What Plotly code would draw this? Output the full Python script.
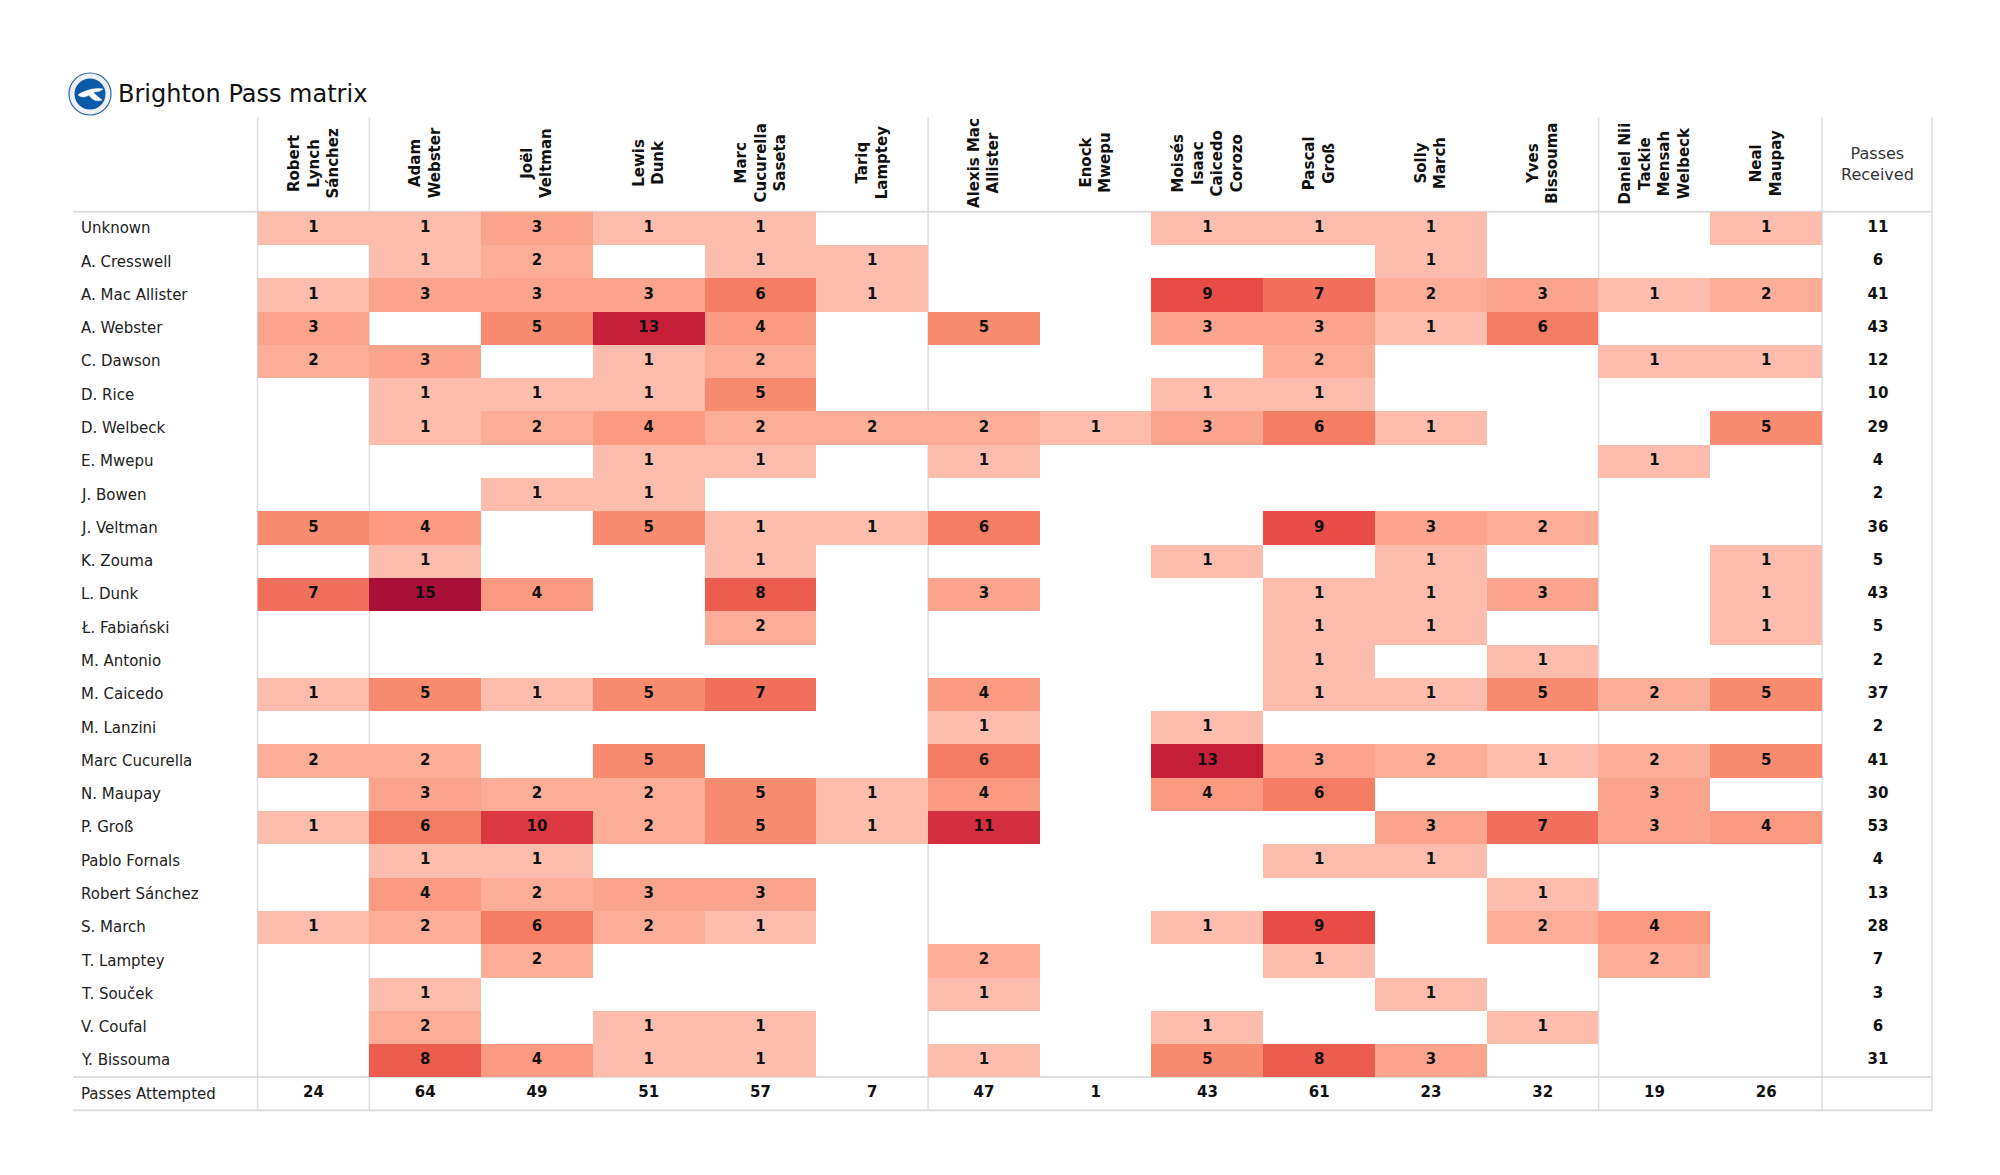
import plotly.graph_objects as go

# ---------------- data ----------------
passers = ["Robert Lynch Sánchez", "Adam Webster", "Joël Veltman", "Lewis Dunk",
           "Marc Cucurella Saseta", "Tariq Lamptey", "Alexis Mac Allister", "Enock Mwepu",
           "Moisés Isaac Caicedo Corozo", "Pascal Groß", "Solly March", "Yves Bissouma",
           "Daniel Nii Tackie Mensah Welbeck", "Neal Maupay"]
header_labels = ["Robert<br>Lynch<br>Sánchez", "Adam<br>Webster", "Joël<br>Veltman", "Lewis<br>Dunk",
                 "Marc<br>Cucurella<br>Saseta", "Tariq<br>Lamptey", "Alexis Mac<br>Allister", "Enock<br>Mwepu",
                 "Moisés<br>Isaac<br>Caicedo<br>Corozo", "Pascal<br>Groß", "Solly<br>March", "Yves<br>Bissouma",
                 "Daniel Nii<br>Tackie<br>Mensah<br>Welbeck", "Neal<br>Maupay"]
receivers = ["Unknown", "A. Cresswell", "A. Mac Allister", "A. Webster", "C. Dawson", "D. Rice",
             "D. Welbeck", "E. Mwepu", "J. Bowen", "J. Veltman", "K. Zouma", "L. Dunk",
             "Ł. Fabiański", "M. Antonio", "M. Caicedo", "M. Lanzini", "Marc Cucurella",
             "N. Maupay", "P. Groß", "Pablo Fornals", "Robert Sánchez", "S. March",
             "T. Lamptey", "T. Souček", "V. Coufal", "Y. Bissouma"]
N = None
passes = [
    [1, 1, 3, 1, 1, N, N, N, 1, 1, 1, N, N, 1],      # Unknown
    [N, 1, 2, N, 1, 1, N, N, N, N, 1, N, N, N],      # A. Cresswell
    [1, 3, 3, 3, 6, 1, N, N, 9, 7, 2, 3, 1, 2],      # A. Mac Allister
    [3, N, 5, 13, 4, N, 5, N, 3, 3, 1, 6, N, N],     # A. Webster
    [2, 3, N, 1, 2, N, N, N, N, 2, N, N, 1, 1],      # C. Dawson
    [N, 1, 1, 1, 5, N, N, N, 1, 1, N, N, N, N],      # D. Rice
    [N, 1, 2, 4, 2, 2, 2, 1, 3, 6, 1, N, N, 5],      # D. Welbeck
    [N, N, N, 1, 1, N, 1, N, N, N, N, N, 1, N],      # E. Mwepu
    [N, N, 1, 1, N, N, N, N, N, N, N, N, N, N],      # J. Bowen
    [5, 4, N, 5, 1, 1, 6, N, N, 9, 3, 2, N, N],      # J. Veltman
    [N, 1, N, N, 1, N, N, N, 1, N, 1, N, N, 1],      # K. Zouma
    [7, 15, 4, N, 8, N, 3, N, N, 1, 1, 3, N, 1],     # L. Dunk
    [N, N, N, N, 2, N, N, N, N, 1, 1, N, N, 1],      # Ł. Fabiański
    [N, N, N, N, N, N, N, N, N, 1, N, 1, N, N],      # M. Antonio
    [1, 5, 1, 5, 7, N, 4, N, N, 1, 1, 5, 2, 5],      # M. Caicedo
    [N, N, N, N, N, N, 1, N, 1, N, N, N, N, N],      # M. Lanzini
    [2, 2, N, 5, N, N, 6, N, 13, 3, 2, 1, 2, 5],     # Marc Cucurella
    [N, 3, 2, 2, 5, 1, 4, N, 4, 6, N, N, 3, N],      # N. Maupay
    [1, 6, 10, 2, 5, 1, 11, N, N, N, 3, 7, 3, 4],    # P. Groß
    [N, 1, 1, N, N, N, N, N, N, 1, 1, N, N, N],      # Pablo Fornals
    [N, 4, 2, 3, 3, N, N, N, N, N, N, 1, N, N],      # Robert Sánchez
    [1, 2, 6, 2, 1, N, N, N, 1, 9, N, 2, 4, N],      # S. March
    [N, N, 2, N, N, N, 2, N, N, 1, N, N, 2, N],      # T. Lamptey
    [N, 1, N, N, N, N, 1, N, N, N, 1, N, N, N],      # T. Souček
    [N, 2, N, 1, 1, N, N, N, 1, N, N, 1, N, N],      # V. Coufal
    [N, 8, 4, 1, 1, N, 1, N, 5, 8, 3, N, N, N],      # Y. Bissouma
]
passes_received = [11, 6, 41, 43, 12, 10, 29, 4, 2, 36, 5, 43, 5, 2, 37, 2, 41, 30, 53, 4, 13, 28, 7, 3, 6, 31]
passes_attempted = [24, 64, 49, 51, 57, 7, 47, 1, 43, 61, 23, 32, 19, 26]
received_label = "Passes Received"
attempted_label = "Passes Attempted"
title_text = "Brighton Pass matrix"

# colour anchors (value -> colour)
color_values = [1, 2, 3, 4, 5, 6, 7, 8, 9, 10, 11, 13, 15]
color_hex = ["#fcbdad", "#fcad98", "#fba48d", "#fb9a80", "#f88b70", "#f57d64", "#f06f5d",
             "#ec5d50", "#e74c47", "#dd3943", "#d52f3f", "#c71f3a", "#a8103a"]

# ---------------- geometry (page pixels; page has an 8px body margin) ----------------
OFF = 8
W, H = 2000 - 2 * OFF, 1175 - 2 * OFF
COLW, X0PX = 111.75, 257.6     # column width, left edge of first passer column (page px)
ROWH, Y0PX = 33.28, 211.7      # row height, top edge of first row (page px)


def xd(px):
    return -0.5 + (px - X0PX) / COLW


def yd(px):
    return -0.5 + (px - Y0PX) / ROWH


def xp(px):
    return (px - OFF) / W


def yp(px):
    return 1 - (px - OFF) / H


vmin, vmax = min(color_values), max(color_values)
colorscale = [[(v - vmin) / (vmax - vmin), c] for v, c in zip(color_values, color_hex)]

xcats = passers + [received_label]
ycats = receivers + [attempted_label]

fig = go.Figure()
fig.add_trace(go.Heatmap(
    z=passes, x=passers, y=receivers, colorscale=colorscale, zmin=vmin, zmax=vmax,
    showscale=False, hoverongaps=False, xgap=0, ygap=0,
))

cell_font = dict(family="DejaVu Sans", size=15, color="#111111", weight="bold")
cx, cy, ct = [], [], []
for i, r in enumerate(receivers):
    for j, p in enumerate(passers):
        v = passes[i][j]
        if v is not None:
            cx.append(p); cy.append(r); ct.append(str(v))
fig.add_trace(go.Scatter(x=cx, y=cy, text=ct, mode="text", textfont=cell_font,
                         hoverinfo="skip", showlegend=False))
fig.add_trace(go.Scatter(x=[received_label] * len(receivers), y=receivers,
                         text=[str(v) for v in passes_received], mode="text",
                         textfont=cell_font, hoverinfo="skip", showlegend=False))
fig.add_trace(go.Scatter(x=passers, y=[attempted_label] * len(passers),
                         text=[str(v) for v in passes_attempted], mode="text",
                         textfont=cell_font, hoverinfo="skip", showlegend=False))

annotations = []
# row labels
label_x = xd(79)
for r in ycats:
    annotations.append(dict(x=label_x, y=r, xref="x", yref="y", text=r, showarrow=False,
                            xanchor="left", yanchor="middle",
                            font=dict(family="DejaVu Sans", size=15, color="#222222")))
# column headers
for j, lab in enumerate(header_labels):
    annotations.append(dict(x=j, y=yd(163), xref="x", yref="y", text=lab, showarrow=False,
                            textangle=-90, xanchor="center", yanchor="middle", align="center",
                            font=dict(family="DejaVu Sans", size=15, color="#111111", weight="bold")))
annotations.append(dict(x=len(passers), y=yd(164), xref="x", yref="y", text="Passes<br>Received",
                        showarrow=False, xanchor="center", yanchor="middle", align="center",
                        font=dict(family="DejaVu Sans", size=16, color="#333333")))
# title
annotations.append(dict(x=xp(116), y=yp(94), xref="paper", yref="paper", text=title_text,
                        showarrow=False, xanchor="left", yanchor="middle",
                        font=dict(family="DejaVu Sans", size=24, color="#111111")))

shapes = []
line_col = "#dedede"
x_left, x_right = xd(73), xd(1932)
y_top_hdr, y_bottom = yd(117), len(ycats) - 0.5
for yy in [-0.5, len(receivers) - 0.5, len(ycats) - 0.5]:
    shapes.append(dict(type="line", xref="x", yref="y", x0=x_left, x1=x_right, y0=yy, y1=yy,
                       line=dict(color=line_col, width=2), layer="below"))
for xx in [-0.5, 0.5, 5.5, 11.5, len(passers) - 0.5, x_right]:
    shapes.append(dict(type="line", xref="x", yref="y", x0=xx, x1=xx, y0=y_top_hdr, y1=y_bottom,
                       line=dict(color=line_col, width=1.5), layer="below"))

# logo
lx, ly = xp(90), yp(94)
shapes.append(dict(type="circle", xref="paper", yref="paper", xsizemode="pixel", ysizemode="pixel",
                   xanchor=lx, yanchor=ly, x0=-21, x1=21, y0=-21, y1=21,
                   fillcolor="#eef2f8", line=dict(color="#2a63a8", width=1.2)))
shapes.append(dict(type="circle", xref="paper", yref="paper", xsizemode="pixel", ysizemode="pixel",
                   xanchor=lx, yanchor=ly, x0=-15.5, x1=15.5, y0=-15.5, y1=15.5,
                   fillcolor="#0b5aa8", line=dict(color="#0b5aa8", width=0)))
shapes.append(dict(type="path", xref="paper", yref="paper", xsizemode="pixel", ysizemode="pixel",
                   xanchor=lx, yanchor=ly,
                   path="M -12,-1 C -8,-4 -4,-3 -1,-1 C 2,-6 7,-8 12,-6 C 8,-3 5,0 3,2 "
                        "C 8,2 11,3 13,5 C 6,6 0,5 -4,3 C -7,2 -10,1 -12,-1 Z",
                   fillcolor="white", line=dict(color="white", width=0.5)))

fig.update_layout(
    width=W, height=H, margin=dict(l=0, r=0, t=0, b=0),
    paper_bgcolor="white", plot_bgcolor="white",
    xaxis=dict(type="category", categoryorder="array", categoryarray=xcats,
               range=[xd(OFF), xd(OFF + W)], showgrid=False, zeroline=False, showticklabels=False,
               showline=False, ticks="", fixedrange=True),
    yaxis=dict(type="category", categoryorder="array", categoryarray=ycats,
               range=[yd(OFF + H), yd(OFF)], showgrid=False, zeroline=False, showticklabels=False,
               showline=False, ticks="", fixedrange=True),
    annotations=annotations, shapes=shapes, showlegend=False,
)

fig.write_html("out.html")
